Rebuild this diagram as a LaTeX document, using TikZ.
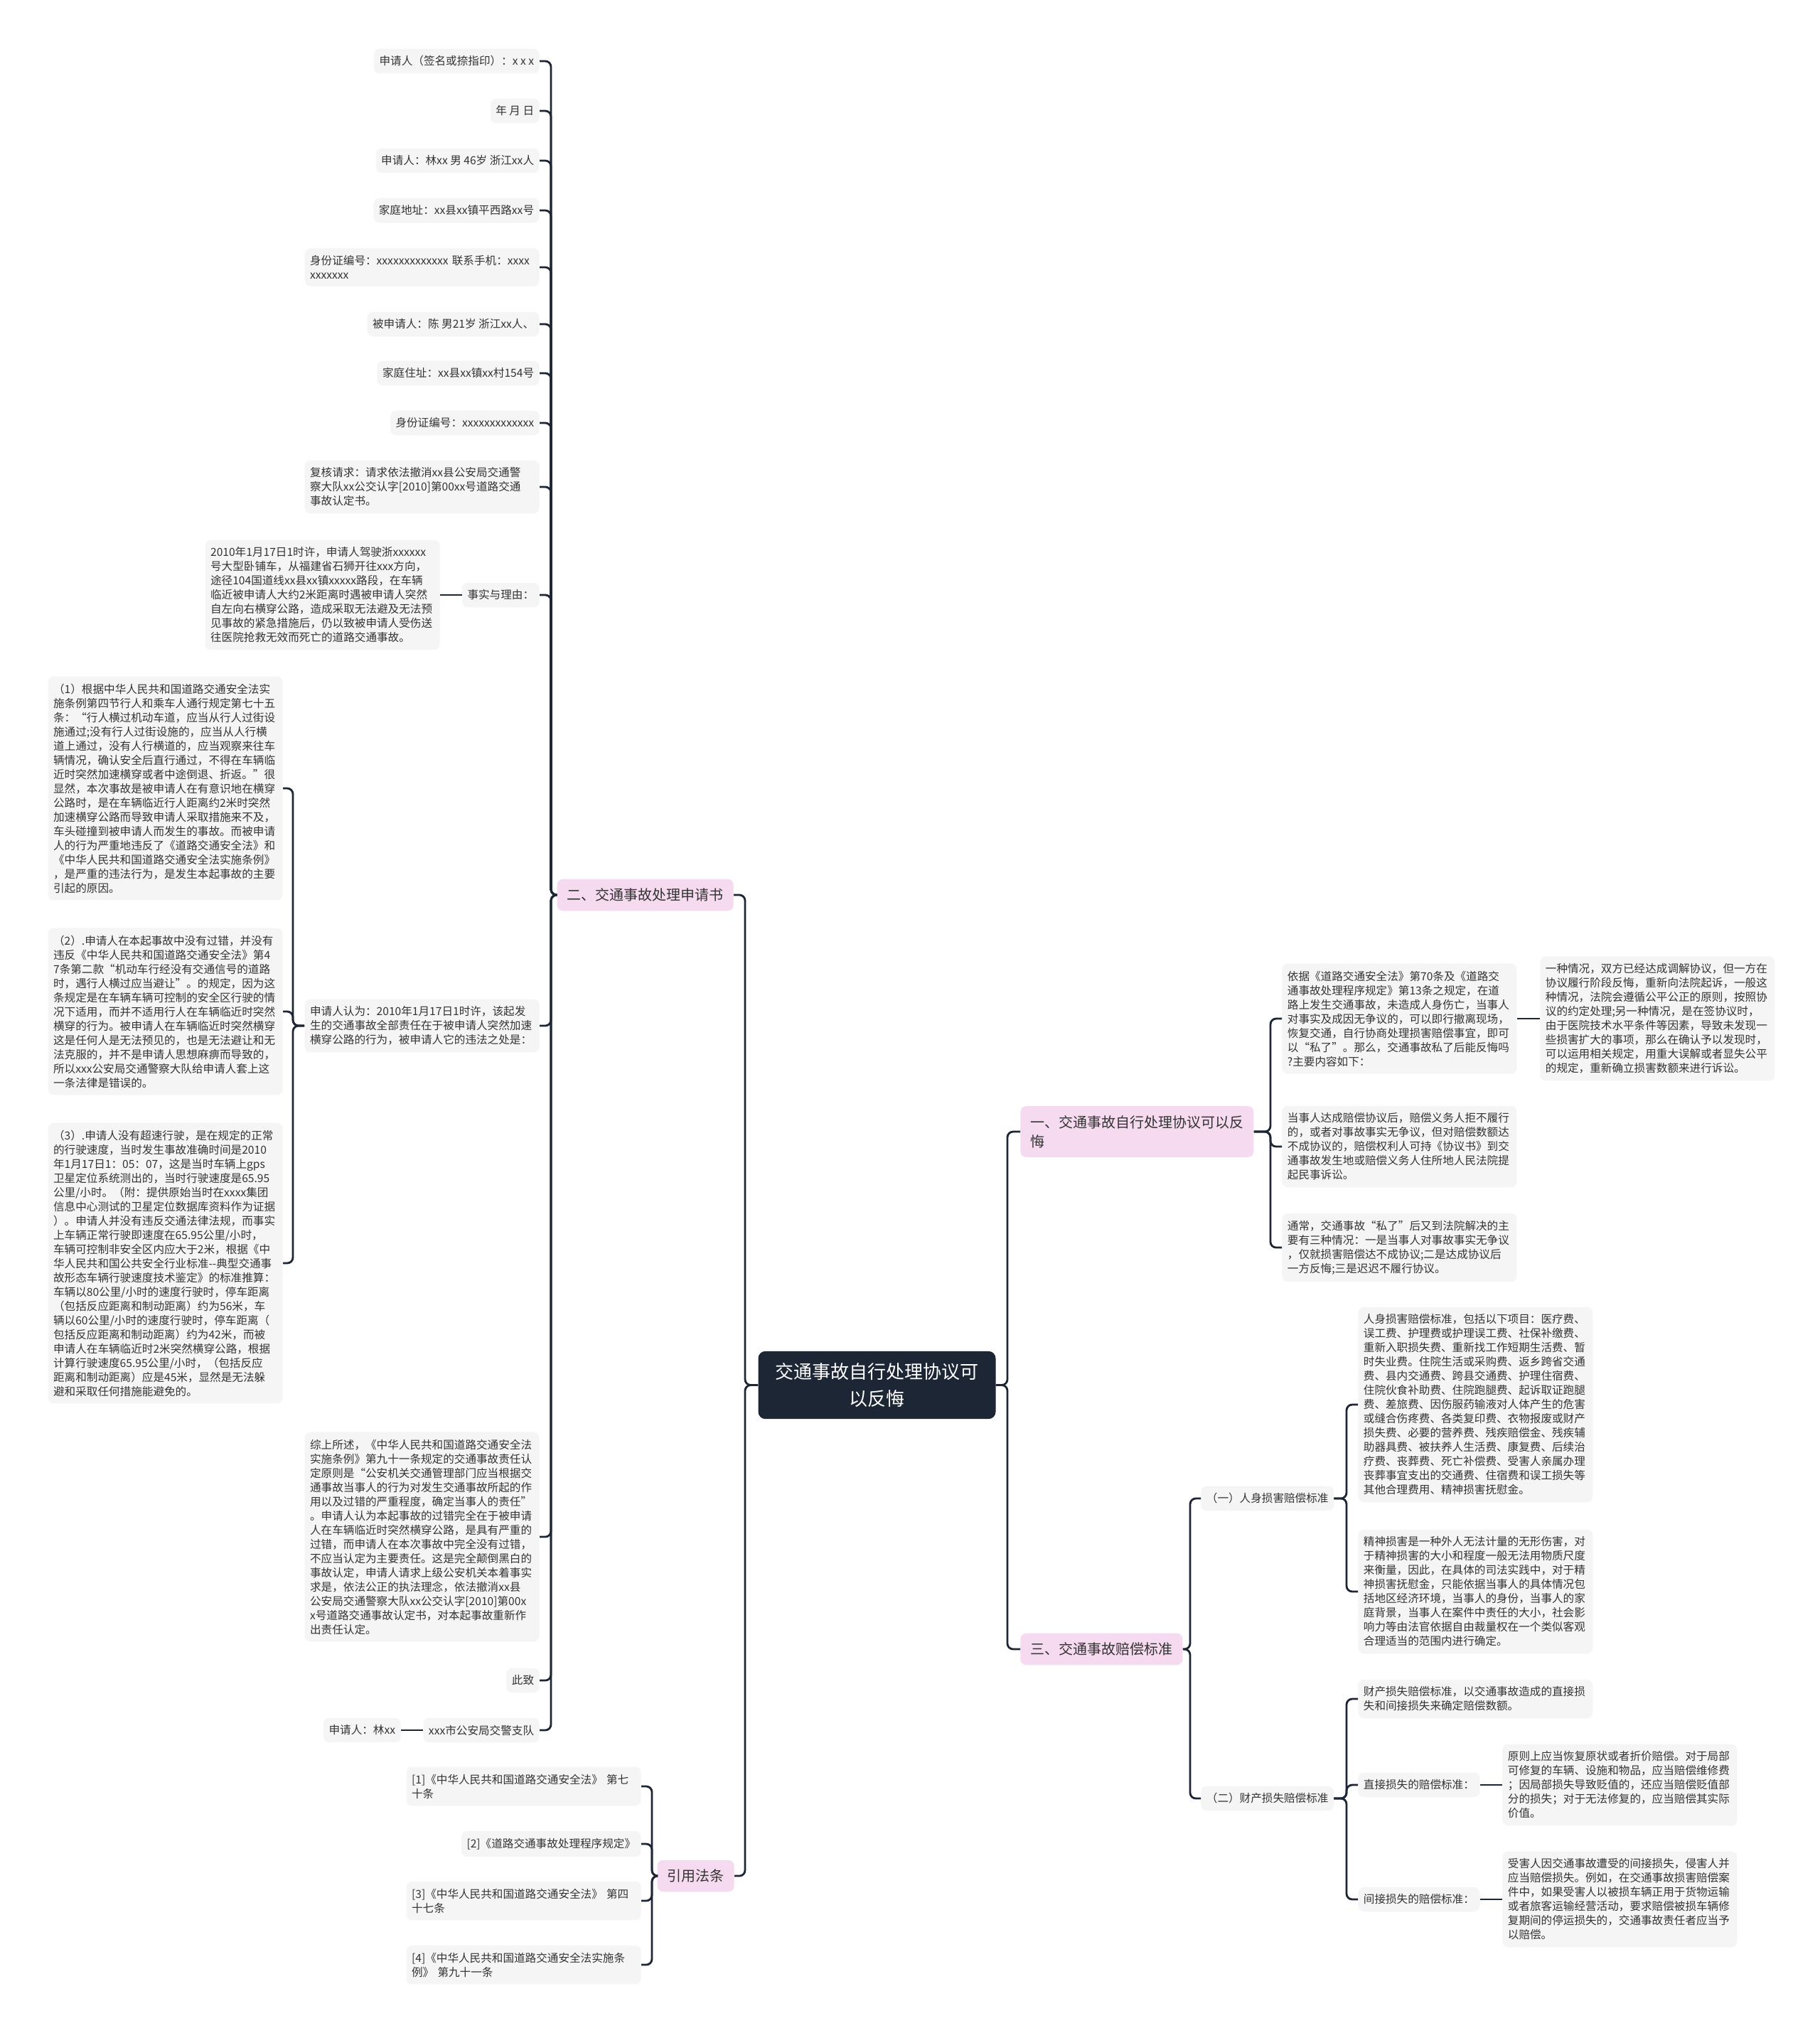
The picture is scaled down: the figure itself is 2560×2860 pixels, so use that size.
\documentclass[tikz,border=0pt]{standalone}
\usepackage{fontspec}
\setmainfont{Noto Sans CJK SC}
\definecolor{lineC}{HTML}{1D2634}
\definecolor{pinkC}{HTML}{F6DAF0}
\definecolor{leafC}{HTML}{F5F5F5}
\definecolor{textC}{HTML}{333333}
\tikzset{
  conn/.style={draw=lineC, line width=1.4pt, rounded corners=4pt},
  leafbase/.style={fill=leafC, rounded corners=4pt, text=textC, inner xsep=3.75pt, inner ysep=5pt, font=\fontsize{7.8}{10}\selectfont, align=left},
  leafw/.style={leafbase, text width=157.5pt},
  branch/.style={fill=pinkC, rounded corners=4pt, text=textC, inner xsep=7pt, inner ysep=6.5pt, font=\fontsize{10}{13.5}\selectfont, align=left},
  central/.style={fill=lineC, rounded corners=5pt, text=white, inner xsep=12pt, inner ysep=8.25pt, font=\fontsize{13}{19}\selectfont, align=center},
}
\begin{document}
\begin{tikzpicture}[x=0.5pt,y=-0.5pt]
\useasboundingbox (0,0) rectangle (2560,2860);
\fill[white] (0,0) rectangle (2560,2860);
% spines
\coordinate (sL0) at (1048,0);
\coordinate (sB2) at (775,0);
\coordinate (sC) at (412,0);
\coordinate (sRef) at (917,0);
\coordinate (sR0) at (1417,0);
\coordinate (sR1) at (1787,0);
\coordinate (sR3) at (1674,0);
\coordinate (sP) at (1894,0);
% central and branches
\node[central] (c) at (1233.5,1948.5) {交通事故自行处理协议可\\以反悔};
\node[branch, anchor=east] (b2) at (1032,1259) {二、交通事故处理申请书};
\node[branch, anchor=east] (bref) at (1033,2639) {引用法条};
\node[branch, anchor=west] (b1) at (1435,1592) {一、交通事故自行处理协议可以反\\悔};
\node[branch, anchor=west] (b3) at (1435,2320) {三、交通事故赔偿标准};
% left leaves
\node[leafbase, anchor=east] (l1) at (759,86) {申请人（签名或捺指印）：x x x};
\node[leafbase, anchor=east] (l2) at (759,156) {年 月 日};
\node[leafbase, anchor=east] (l3) at (759,226) {申请人：林xx 男 46岁 浙江xx人};
\node[leafbase, anchor=east] (l4) at (759,296) {家庭地址：xx县xx镇平西路xx号};
\node[leafw, anchor=east] (l5) at (759,376) {身份证编号：xxxxxxxxxxxxx 联系手机：xxxx\\xxxxxxx};
\node[leafbase, anchor=east] (l6) at (759,456) {被申请人：陈 男21岁 浙江xx人、};
\node[leafbase, anchor=east] (l7) at (759,525) {家庭住址：xx县xx镇xx村154号};
\node[leafbase, anchor=east] (l8) at (759,595) {身份证编号：xxxxxxxxxxxxx};
\node[leafw, anchor=east] (l9) at (759,685) {复核请求：请求依法撤消xx县公安局交通警\\察大队xx公交认字[2010]第00xx号道路交通\\事故认定书。};
\node[leafbase, anchor=east] (l10) at (759,837) {事实与理由：};
\node[leafw, anchor=east] (f1) at (619,837) {2010年1月17日1时许，申请人驾驶浙xxxxxx\\号大型卧铺车，从福建省石狮开往xxx方向，\\途径104国道线xx县xx镇xxxxx路段，在车辆\\临近被申请人大约2米距离时遇被申请人突然\\自左向右横穿公路，造成采取无法避及无法预\\见事故的紧急措施后，仍以致被申请人受伤送\\往医院抢救无效而死亡的道路交通事故。};
\node[leafw, anchor=east] (l11) at (759,1443) {申请人认为：2010年1月17日1时许，该起发\\生的交通事故全部责任在于被申请人突然加速\\横穿公路的行为，被申请人它的违法之处是：};
\node[leafw, anchor=east] (c1) at (398,1109) {（1）根据中华人民共和国道路交通安全法实\\施条例第四节行人和乘车人通行规定第七十五\\条：“行人横过机动车道，应当从行人过街设\\施通过;没有行人过街设施的，应当从人行横\\道上通过，没有人行横道的，应当观察来往车\\辆情况，确认安全后直行通过，不得在车辆临\\近时突然加速横穿或者中途倒退、折返。”很\\显然，本次事故是被申请人在有意识地在横穿\\公路时，是在车辆临近行人距离约2米时突然\\加速横穿公路而导致申请人采取措施来不及，\\车头碰撞到被申请人而发生的事故。而被申请\\人的行为严重地违反了《道路交通安全法》和\\《中华人民共和国道路交通安全法实施条例》\\，是严重的违法行为，是发生本起事故的主要\\引起的原因。};
\node[leafw, anchor=east] (c2) at (398,1423) {（2）.申请人在本起事故中没有过错，并没有\\违反《中华人民共和国道路交通安全法》第4\\7条第二款“机动车行经没有交通信号的道路\\时，遇行人横过应当避让”。的规定，因为这\\条规定是在车辆车辆可控制的安全区行驶的情\\况下适用，而并不适用行人在车辆临近时突然\\横穿的行为。被申请人在车辆临近时突然横穿\\这是任何人是无法预见的，也是无法避让和无\\法克服的，并不是申请人思想麻痹而导致的，\\所以xxx公安局交通警察大队给申请人套上这\\一条法律是错误的。};
\node[leafw, anchor=east] (c3) at (398,1777) {（3）.申请人没有超速行驶，是在规定的正常\\的行驶速度，当时发生事故准确时间是2010\\年1月17日1：05：07，这是当时车辆上gps\\卫星定位系统测出的，当时行驶速度是65.95\\公里/小时。（附：提供原始当时在xxxx集团\\信息中心测试的卫星定位数据库资料作为证据\\）。申请人并没有违反交通法律法规，而事实\\上车辆正常行驶即速度在65.95公里/小时，\\车辆可控制非安全区内应大于2米，根据《中\\华人民共和国公共安全行业标准-{}-典型交通事\\故形态车辆行驶速度技术鉴定》的标准推算：\\车辆以80公里/小时的速度行驶时，停车距离\\（包括反应距离和制动距离）约为56米，车\\辆以60公里/小时的速度行驶时，停车距离（\\包括反应距离和制动距离）约为42米，而被\\申请人在车辆临近时2米突然横穿公路，根据\\计算行驶速度65.95公里/小时，（包括反应\\距离和制动距离）应是45米，显然是无法躲\\避和采取任何措施能避免的。};
\node[leafw, anchor=east] (l12) at (759,2162) {综上所述，《中华人民共和国道路交通安全法\\实施条例》第九十一条规定的交通事故责任认\\定原则是“公安机关交通管理部门应当根据交\\通事故当事人的行为对发生交通事故所起的作\\用以及过错的严重程度，确定当事人的责任”\\。申请人认为本起事故的过错完全在于被申请\\人在车辆临近时突然横穿公路，是具有严重的\\过错，而申请人在本次事故中完全没有过错，\\不应当认定为主要责任。这是完全颠倒黑白的\\事故认定，申请人请求上级公安机关本着事实\\求是，依法公正的执法理念，依法撤消xx县\\公安局交通警察大队xx公交认字[2010]第00x\\x号道路交通事故认定书，对本起事故重新作\\出责任认定。};
\node[leafbase, anchor=east] (l13) at (759,2364) {此致};
\node[leafbase, anchor=east] (l14) at (759,2434) {xxx市公安局交警支队};
\node[leafbase, anchor=east] (l14a) at (564,2434) {申请人：林xx};
% references
\node[leafw, anchor=east] (r1) at (902,2513) {[1]《中华人民共和国道路交通安全法》 第七\\十条};
\node[leafbase, anchor=east] (r2) at (902,2594) {[2]《道路交通事故处理程序规定》};
\node[leafw, anchor=east] (r3) at (902,2674) {[3]《中华人民共和国道路交通安全法》 第四\\十七条};
\node[leafw, anchor=east] (r4) at (902,2764) {[4]《中华人民共和国道路交通安全法实施条\\例》 第九十一条};
% right side
\node[leafw, anchor=west] (ra) at (1803,1433) {依据《道路交通安全法》第70条及《道路交\\通事故处理程序规定》第13条之规定，在道\\路上发生交通事故，未造成人身伤亡，当事人\\对事实及成因无争议的，可以即行撤离现场，\\恢复交通，自行协商处理损害赔偿事宜，即可\\以“私了”。那么，交通事故私了后能反悔吗\\?主要内容如下：};
\node[leafw, anchor=west] (raa) at (2166,1433) {一种情况，双方已经达成调解协议，但一方在\\协议履行阶段反悔，重新向法院起诉，一般这\\种情况，法院会遵循公平公正的原则，按照协\\议的约定处理;另一种情况，是在签协议时，\\由于医院技术水平条件等因素，导致未发现一\\些损害扩大的事项，那么在确认予以发现时，\\可以运用相关规定，用重大误解或者显失公平\\的规定，重新确立损害数额来进行诉讼。};
\node[leafw, anchor=west] (rb) at (1803,1613) {当事人达成赔偿协议后，赔偿义务人拒不履行\\的，或者对事故事实无争议，但对赔偿数额达\\不成协议的，赔偿权利人可持《协议书》到交\\通事故发生地或赔偿义务人住所地人民法院提\\起民事诉讼。};
\node[leafw, anchor=west] (rc) at (1803,1755) {通常，交通事故“私了”后又到法院解决的主\\要有三种情况：一是当事人对事故事实无争议\\，仅就损害赔偿达不成协议;二是达成协议后\\一方反悔;三是迟迟不履行协议。};
\node[leafbase, anchor=west] (p1) at (1689,2108) {（一）人身损害赔偿标准};
\node[leafbase, anchor=west] (p2) at (1689,2530) {（二）财产损失赔偿标准};
\node[leafw, anchor=west] (pa) at (1910,1976) {人身损害赔偿标准，包括以下项目：医疗费、\\误工费、护理费或护理误工费、社保补缴费、\\重新入职损失费、重新找工作短期生活费、暂\\时失业费。住院生活或采购费、返乡跨省交通\\费、县内交通费、跨县交通费、护理住宿费、\\住院伙食补助费、住院跑腿费、起诉取证跑腿\\费、差旅费、因伤服药输液对人体产生的危害\\或缝合伤疼费、各类复印费、衣物报废或财产\\损失费、必要的营养费、残疾赔偿金、残疾辅\\助器具费、被扶养人生活费、康复费、后续治\\疗费、丧葬费、死亡补偿费、受害人亲属办理\\丧葬事宜支出的交通费、住宿费和误工损失等\\其他合理费用、精神损害抚慰金。};
\node[leafw, anchor=west] (pb) at (1910,2239) {精神损害是一种外人无法计量的无形伤害，对\\于精神损害的大小和程度一般无法用物质尺度\\来衡量，因此，在具体的司法实践中，对于精\\神损害抚慰金，只能依据当事人的具体情况包\\括地区经济环境，当事人的身份，当事人的家\\庭背景，当事人在案件中责任的大小，社会影\\响力等由法官依据自由裁量权在一个类似客观\\合理适当的范围内进行确定。};
\node[leafw, anchor=west] (pc) at (1910,2390) {财产损失赔偿标准，以交通事故造成的直接损\\失和间接损失来确定赔偿数额。};
\node[leafbase, anchor=west] (pd) at (1910,2511) {直接损失的赔偿标准：};
\node[leafw, anchor=west] (pdd) at (2113,2511) {原则上应当恢复原状或者折价赔偿。对于局部\\可修复的车辆、设施和物品，应当赔偿维修费\\；因局部损失导致贬值的，还应当赔偿贬值部\\分的损失；对于无法修复的，应当赔偿其实际\\价值。};
\node[leafbase, anchor=west] (pe) at (1910,2672) {间接损失的赔偿标准：};
\node[leafw, anchor=west] (pee) at (2113,2672) {受害人因交通事故遭受的间接损失，侵害人并\\应当赔偿损失。例如，在交通事故损害赔偿案\\件中，如果受害人以被损车辆正用于货物运输\\或者旅客运输经营活动，要求赔偿被损车辆修\\复期间的停运损失的，交通事故责任者应当予\\以赔偿。};
% connectors
\draw[conn] (c.west) -- (c.west -| sL0) |- (b2.east);
\draw[conn] (c.west) -- (c.west -| sL0) |- (bref.east);
\draw[conn] (c.east) -- (c.east -| sR0) |- (b1.west);
\draw[conn] (c.east) -- (c.east -| sR0) |- (b3.west);
\foreach \n in {l1,l2,l3,l4,l5,l6,l7,l8,l9,l10,l11,l12,l13,l14}
  \draw[conn] (b2.west) -- (b2.west -| sB2) |- (\n.east);
\draw[conn] (l10.west) -- (f1.east);
\draw[conn] (l14.west) -- (l14a.east);
\foreach \n in {c1,c2,c3}
  \draw[conn] (l11.west) -- (l11.west -| sC) |- (\n.east);
\foreach \n in {r1,r2,r3,r4}
  \draw[conn] (bref.west) -- (bref.west -| sRef) |- (\n.east);
\foreach \n in {ra,rb,rc}
  \draw[conn] (b1.east) -- (b1.east -| sR1) |- (\n.west);
\draw[conn] (ra.east) -- (raa.west |- ra.east);
\foreach \n in {p1,p2}
  \draw[conn] (b3.east) -- (b3.east -| sR3) |- (\n.west);
\foreach \n in {pa,pb}
  \draw[conn] (p1.east) -- (p1.east -| sP) |- (\n.west);
\foreach \n in {pc,pd,pe}
  \draw[conn] (p2.east) -- (p2.east -| sP) |- (\n.west);
\draw[conn] (pd.east) -- (pdd.west);
\draw[conn] (pe.east) -- (pee.west);
\end{tikzpicture}
\end{document}
